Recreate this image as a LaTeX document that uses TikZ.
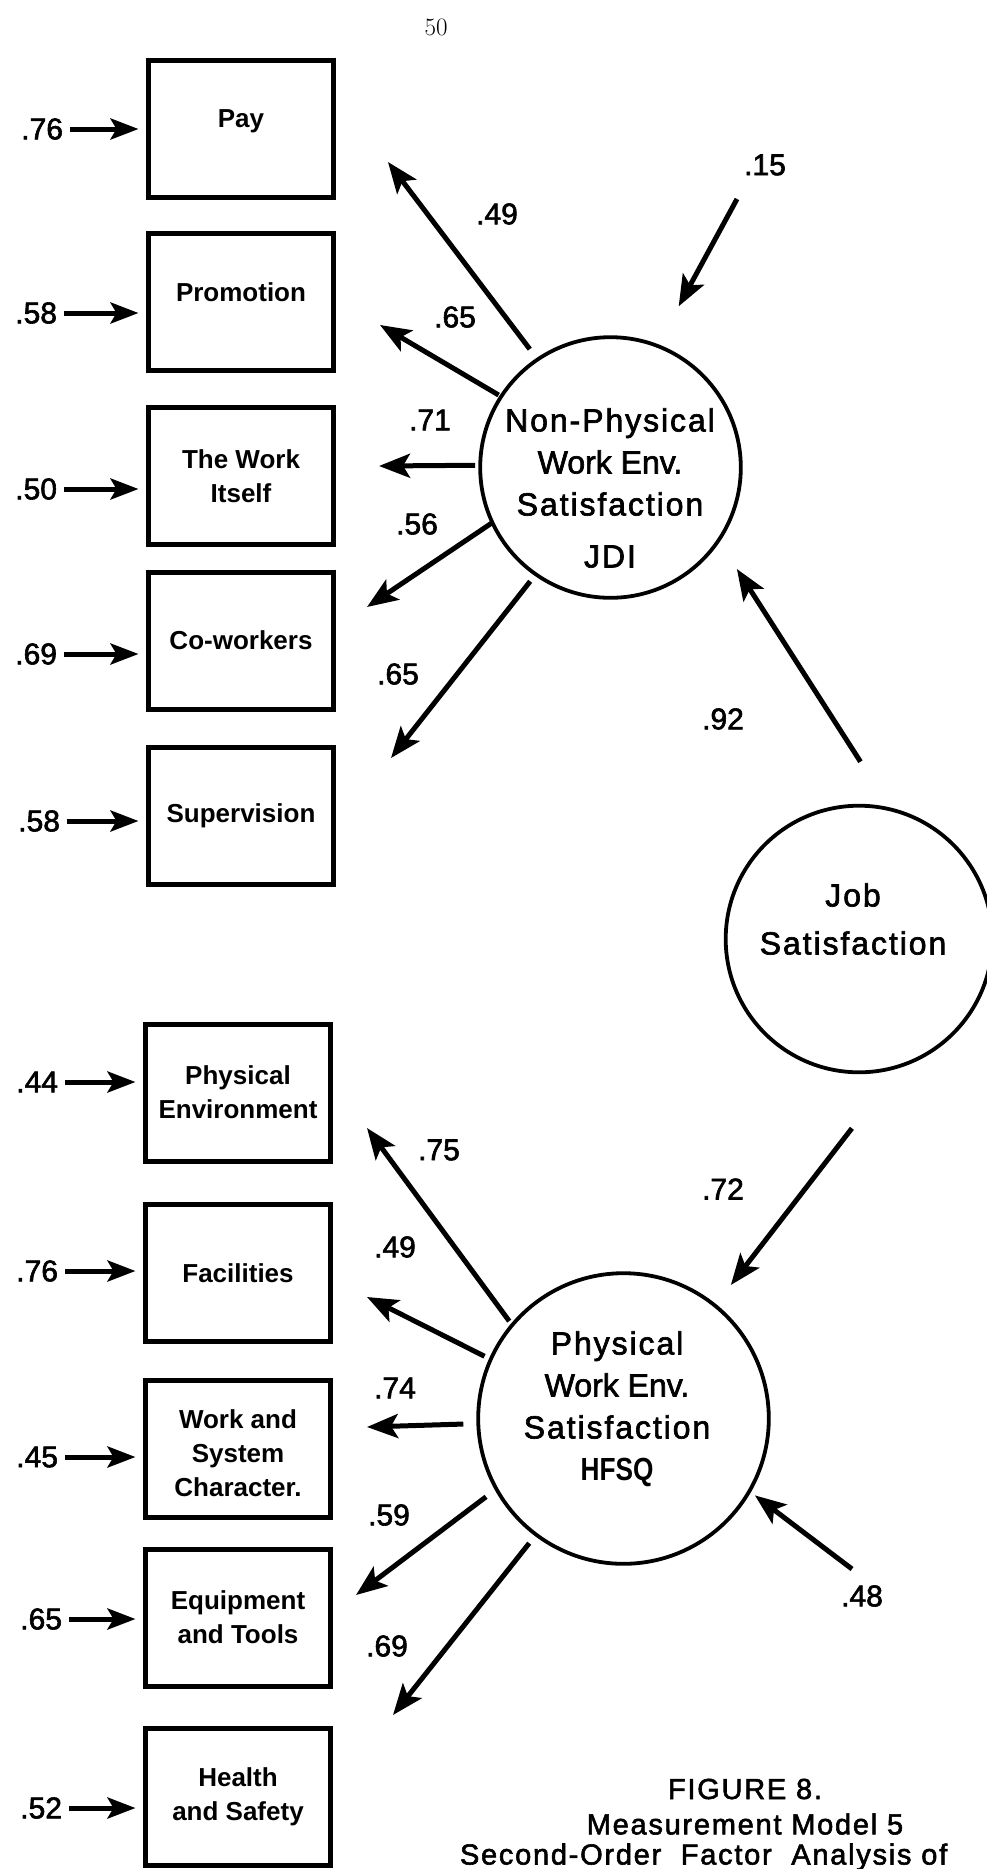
\documentclass[tikz,border=0pt]{standalone}
\usepackage{fontspec}
\newfontfamily\hv[FakeBold=2]{Liberation Sans}
\newfontfamily\hvbold{Liberation Sans Bold}
\newfontfamily\hvsp[LetterSpace=6,FakeBold=2]{Liberation Sans}
\usetikzlibrary{arrows.meta}
\begin{document}
\begin{tikzpicture}[x=1pt, y=-1pt,
  every node/.style={inner sep=0pt, outer sep=0pt},
  indicator/.style={draw, line width=5pt, minimum width=185pt, minimum height=137pt,
    align=center, font=\hvbold\fontsize{26}{34}\selectfont},
  factor/.style={draw, circle, line width=3.8pt},
  ftext/.style={align=center, font=\hvsp\fontsize{32}{42}\selectfont},
  coef/.style={font=\hv\fontsize{30}{36}\selectfont},
  loadarrow/.style={line width=5pt, -{Stealth[length=31pt, width=24pt, inset=7pt]}},
  errarrow/.style={line width=5pt, -{Stealth[length=28pt, width=21pt, inset=6pt]},
    shorten <=7pt, shorten >=10pt},
  caption/.style={font=\hvsp\fontsize{29}{35}\selectfont},
]
\useasboundingbox (0,0) rectangle (987,1869);
\clip (0,0) rectangle (987,1869);

% page number
\node[font=\fontsize{25}{29}\selectfont] (page) at (436,27) {50};

% observed indicators, JDI scales
\node[indicator] (pay)    at (241,128.5) {\raisebox{7pt}[\height][\depth]{Pay}};
\node[indicator] (promo)  at (241,302)   {\raisebox{10pt}[\height][\depth]{Promotion}};
\node[indicator] (work)   at (241,476)   {The Work\\Itself};
\node[indicator] (cowork) at (241,640.5) {Co-workers};
\node[indicator] (superv) at (241,816)   {Supervision};

% observed indicators, HFSQ scales
\node[indicator] (physenv) at (238,1092.5) {Physical\\Environment};
\node[indicator] (facil)   at (238,1273)   {Facilities};
\node[indicator] (wsc)     at (238,1449)   {\raisebox{-7pt}[\height][\depth]{\begin{tabular}{@{}c@{}}Work and\\System\\Character.\end{tabular}}};
\node[indicator] (equip)   at (238,1617.5) {Equipment\\and Tools};
\node[indicator] (health)  at (238,1796.5) {Health\\and Safety};

% error terms of the indicators
\node[coef, anchor=east] (e-pay)     at (63,129)  {.76};
\node[coef, anchor=east] (e-promo)   at (57,313)  {.58};
\node[coef, anchor=east] (e-work)    at (57,489)  {.50};
\node[coef, anchor=east] (e-cowork)  at (57,654)  {.69};
\node[coef, anchor=east] (e-superv)  at (60,821)  {.58};
\node[coef, anchor=east] (e-physenv) at (58,1082) {.44};
\node[coef, anchor=east] (e-facil)   at (58,1271) {.76};
\node[coef, anchor=east] (e-wsc)     at (58,1457) {.45};
\node[coef, anchor=east] (e-equip)   at (62,1619) {.65};
\node[coef, anchor=east] (e-health)  at (62,1808) {.52};

\foreach \n in {pay,promo,work,cowork,superv,physenv,facil,wsc,equip,health}
  \draw[errarrow] (e-\n.east) -- (e-\n.east -| \n.west);

% latent factors
\node[factor, minimum size=260.6pt] (np)   at (610.5,467.5) {};
\node[factor, minimum size=266.6pt] (job)  at (859,939)     {};
\node[factor, minimum size=290.6pt] (phys) at (623.5,1418.5) {};

\node[ftext] (np-text) at (610,488)
  {Non-Physical\\{\hv Work Env.}\\Satisfaction\\[10pt]JDI};
\node[ftext] (job-text) at (853,919)
  {Job\\[6pt]Satisfaction};
\node[ftext] (phys-text) at (617,1409)
  {Physical\\{\hv Work Env.}\\Satisfaction\\{\hvbold\scalebox{0.82}[1]{HFSQ}}};

% loadings of the JDI factor
\coordinate (t-pay)    at (388,162);
\coordinate (t-promo)  at (380,325);
\coordinate (t-work)   at (379,466);
\coordinate (t-cowork) at (367,607);
\coordinate (t-superv) at (391,758);
\draw[loadarrow, shorten <=13pt] (np.124.6) -- (t-pay);
\draw[loadarrow, shorten <=3pt]  (np.147.4) -- (t-promo);
\draw[loadarrow, shorten <=5pt]  (np.179.4) -- (t-work);
\draw[loadarrow]                 (np.205.3) -- (t-cowork);
\draw[loadarrow, shorten <=9pt]  (np.235.1) -- (t-superv);

% loadings of the HFSQ factor
\coordinate (t-physenv) at (367,1128);
\coordinate (t-facil)   at (367,1297);
\coordinate (t-wsc)     at (367,1427);
\coordinate (t-equip)   at (356,1595);
\coordinate (t-health)  at (393,1715);
\draw[loadarrow, shorten <=5pt]  (phys.140.4) -- (t-physenv);
\draw[loadarrow, shorten <=7pt]  (phys.156.4) -- (t-facil);
\draw[loadarrow, shorten <=15pt] (phys.182.3) -- (t-wsc);
\draw[loadarrow, shorten <=13pt] (phys.209.5) -- (t-equip);
\draw[loadarrow, shorten <=11pt] (phys.233.5) -- (t-health);

% second-order paths
\draw[loadarrow, shorten <=57pt, shorten >=34pt] (job.76.5) -- (np.-34.1);
\draw[loadarrow, shorten <=79pt, shorten >=26pt] (job.-72.9) -- (phys.51.8);

% disturbances of the first-order factors
\coordinate (d-np)   at (737,199);
\coordinate (d-phys) at (852,1569);
\draw[loadarrow, shorten >=45pt] (d-np) -- (np.69.1);
\draw[loadarrow, shorten >=7pt]  (d-phys) -- (phys.-30.5);

% coefficients
\node[coef] (c-dnp)     at (765,165)  {.15};
\node[coef] (c-pay)     at (497,214)  {.49};
\node[coef] (c-promo)   at (455,317)  {.65};
\node[coef] (c-work)    at (430,420)  {.71};
\node[coef] (c-cowork)  at (417,524)  {.56};
\node[coef] (c-superv)  at (398,674)  {.65};
\node[coef] (c-np)      at (723,719)  {.92};
\node[coef] (c-phys)    at (723,1189) {.72};
\node[coef] (c-physenv) at (439,1150) {.75};
\node[coef] (c-facil)   at (395,1247) {.49};
\node[coef] (c-wsc)     at (395,1388) {.74};
\node[coef] (c-equip)   at (389,1515) {.59};
\node[coef] (c-health)  at (387,1646) {.69};
\node[coef] (c-dphys)   at (862,1596) {.48};

% caption
\node[caption] (cap1) at (745,1789) {FIGURE 8.};
\node[caption] (cap2) at (745,1824) {Measurement Model 5};
\node[caption, anchor=west] (cap3) at (460,1857) {Second-Order\ \ Factor\ \ Analysis of};
\end{tikzpicture}
\end{document}
